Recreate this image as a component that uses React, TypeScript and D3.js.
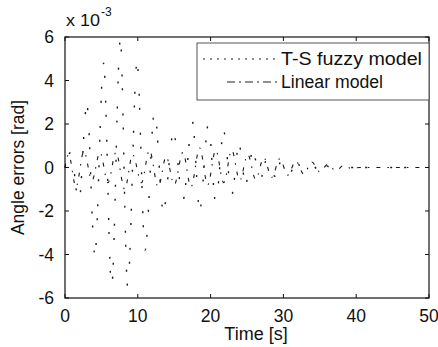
import React from 'react';
import * as d3 from 'd3';

// T-S fuzzy model: extremes of the oscillation (time [s], error x 1e-3 rad)
const tsTime = [0, 0.8, 1.9, 3.0, 4.1, 5.3, 6.4, 7.6, 8.6, 9.9, 11.0, 12.3, 13.5, 14.9, 16.2, 17.5, 18.5, 19.7, 20.7, 21.8, 22.9, 23.9, 24.8, 25.8, 26.8, 27.8, 28.8, 29.8, 30.8, 31.8, 32.8, 33.8, 34.8, 35.8, 36.8, 38.0, 50];
const tsValue = [0, 0.7, -1.6, 2.9, -4.0, 4.8, -5.5, 5.85, -5.45, 4.85, -3.8, 2.6, -2.0, 1.6, -1.5, 2.1, -1.95, 2.0, -1.6, 1.65, -1.25, 1.05, -0.75, 0.75, -0.55, 0.45, -0.4, 0.35, -0.3, 0.25, -0.2, 0.15, -0.1, 0.08, -0.05, 0, 0];

// Linear model
const linTime = [0, 0.5, 1.5, 2.6, 3.7, 4.8, 5.9, 7.0, 8.2, 9.3, 10.5, 11.6, 12.8, 13.9, 15.0, 16.2, 17.3, 18.5, 19.6, 20.7, 21.8, 22.9, 24.0, 25.1, 26.2, 27.3, 28.4, 29.5, 30.6, 31.7, 32.8, 33.9, 35.0, 36.1, 37.2, 38.3, 39.4, 40.5, 50];
const linValue = [0, 0.6, -0.9, 0.75, -0.6, 0.7, -0.7, 0.7, -1.0, 0.6, -0.7, 0.8, -0.9, 0.5, -0.8, 0.7, -0.9, 0.9, -0.8, 0.8, -0.7, 0.8, -0.6, 0.6, -0.55, 0.45, -0.45, 0.4, -0.35, 0.3, -0.3, 0.25, -0.2, 0.15, -0.15, 0.1, -0.05, 0, 0];

const xTicks = [0, 10, 20, 30, 40, 50];
const yTicks = [-6, -4, -2, 0, 2, 4, 6];
const seriesNames = ['T-S fuzzy model', 'Linear model'];

const W = 438;
const H = 347;
const L = 65, R = 429, T = 37, B = 298;
const FONT = 'Liberation Sans, Arial, Helvetica, sans-serif';

export default function App() {
  const x = d3.scaleLinear().domain([0, 50]).range([L, R]);
  const y = d3.scaleLinear().domain([-6, 6]).range([B, T]);
  const line = d3
    .line<[number, number]>()
    .x((d) => x(d[0]))
    .y((d) => y(d[1]))
    .curve(d3.curveMonotoneX);
  const tsPts: [number, number][] = tsTime.map((t, i) => [t, tsValue[i]]);
  const linPts: [number, number][] = linTime.map((t, i) => [t, linValue[i]]);
  const tickLen = 4;

  return (
    <svg
      width={W}
      height={H}
      style={{ position: 'absolute', left: 0, top: 0, background: '#fff' }}
      fontFamily={FONT}
    >
      <rect x={0} y={0} width={W} height={H} fill="#fff" />
      {/* series */}
      <path d={line(tsPts) || ''} fill="none" stroke="#1a1a1a" strokeWidth={1.4} strokeDasharray="2 12 2 23" />
      <path d={line(linPts) || ''} fill="none" stroke="#1a1a1a" strokeWidth={1.1} strokeDasharray="4 7 1.5 7" />

      {/* axes frame */}
      <rect x={L} y={T} width={R - L} height={B - T} fill="none" stroke="#111" strokeWidth={1.2} />
      {xTicks.map((t) => (
        <g key={'x' + t}>
          <line x1={x(t)} x2={x(t)} y1={B} y2={B - tickLen} stroke="#111" />
          <line x1={x(t)} x2={x(t)} y1={T} y2={T + tickLen} stroke="#111" />
          <text x={x(t)} y={322} textAnchor="middle" fontSize={17.5} fill="#111">
            {t}
          </text>
        </g>
      ))}
      {yTicks.map((t) => (
        <g key={'y' + t}>
          <line x1={L} x2={L + tickLen} y1={y(t)} y2={y(t)} stroke="#111" />
          <line x1={R} x2={R - tickLen} y1={y(t)} y2={y(t)} stroke="#111" />
          <text x={L - 11} y={y(t) + 6} textAnchor="end" fontSize={17.5} fill="#111">
            {t}
          </text>
        </g>
      ))}
      {/* exponent */}
      <text x={66} y={26} fontSize={16} fill="#111" textLength={34} lengthAdjust="spacingAndGlyphs">
        x 10
      </text>
      <text x={101} y={16} fontSize={12} fill="#111">
        -3
      </text>

      {/* axis labels */}
      <text x={(L + R) / 2 + 9} y={340} textAnchor="middle" fontSize={18} fill="#111">
        Time [s]
      </text>
      <text
        transform={`translate(24, ${(T + B) / 2}) rotate(-90)`}
        textAnchor="middle"
        fontSize={17.5}
        fill="#111"
      >
        Angle errors [rad]
      </text>

      {/* legend */}
      <rect x={197} y={43} width={R - 197} height={57} fill="#fff" stroke="#555" strokeWidth={1} />
      <line x1={203} x2={277} y1={59} y2={59} stroke="#222" strokeWidth={1.1} strokeDasharray="2 5" />
      <text x={281} y={65} fontSize={18} fill="#111" textLength={141} lengthAdjust="spacingAndGlyphs">
        {seriesNames[0]}
      </text>
      <line x1={227} x2={277} y1={82} y2={82} stroke="#222" strokeWidth={1} strokeDasharray="8 4 2 4" />
      <text x={281} y={88} fontSize={18} fill="#111" textLength={102} lengthAdjust="spacingAndGlyphs">
        {seriesNames[1]}
      </text>
    </svg>
  );
}
